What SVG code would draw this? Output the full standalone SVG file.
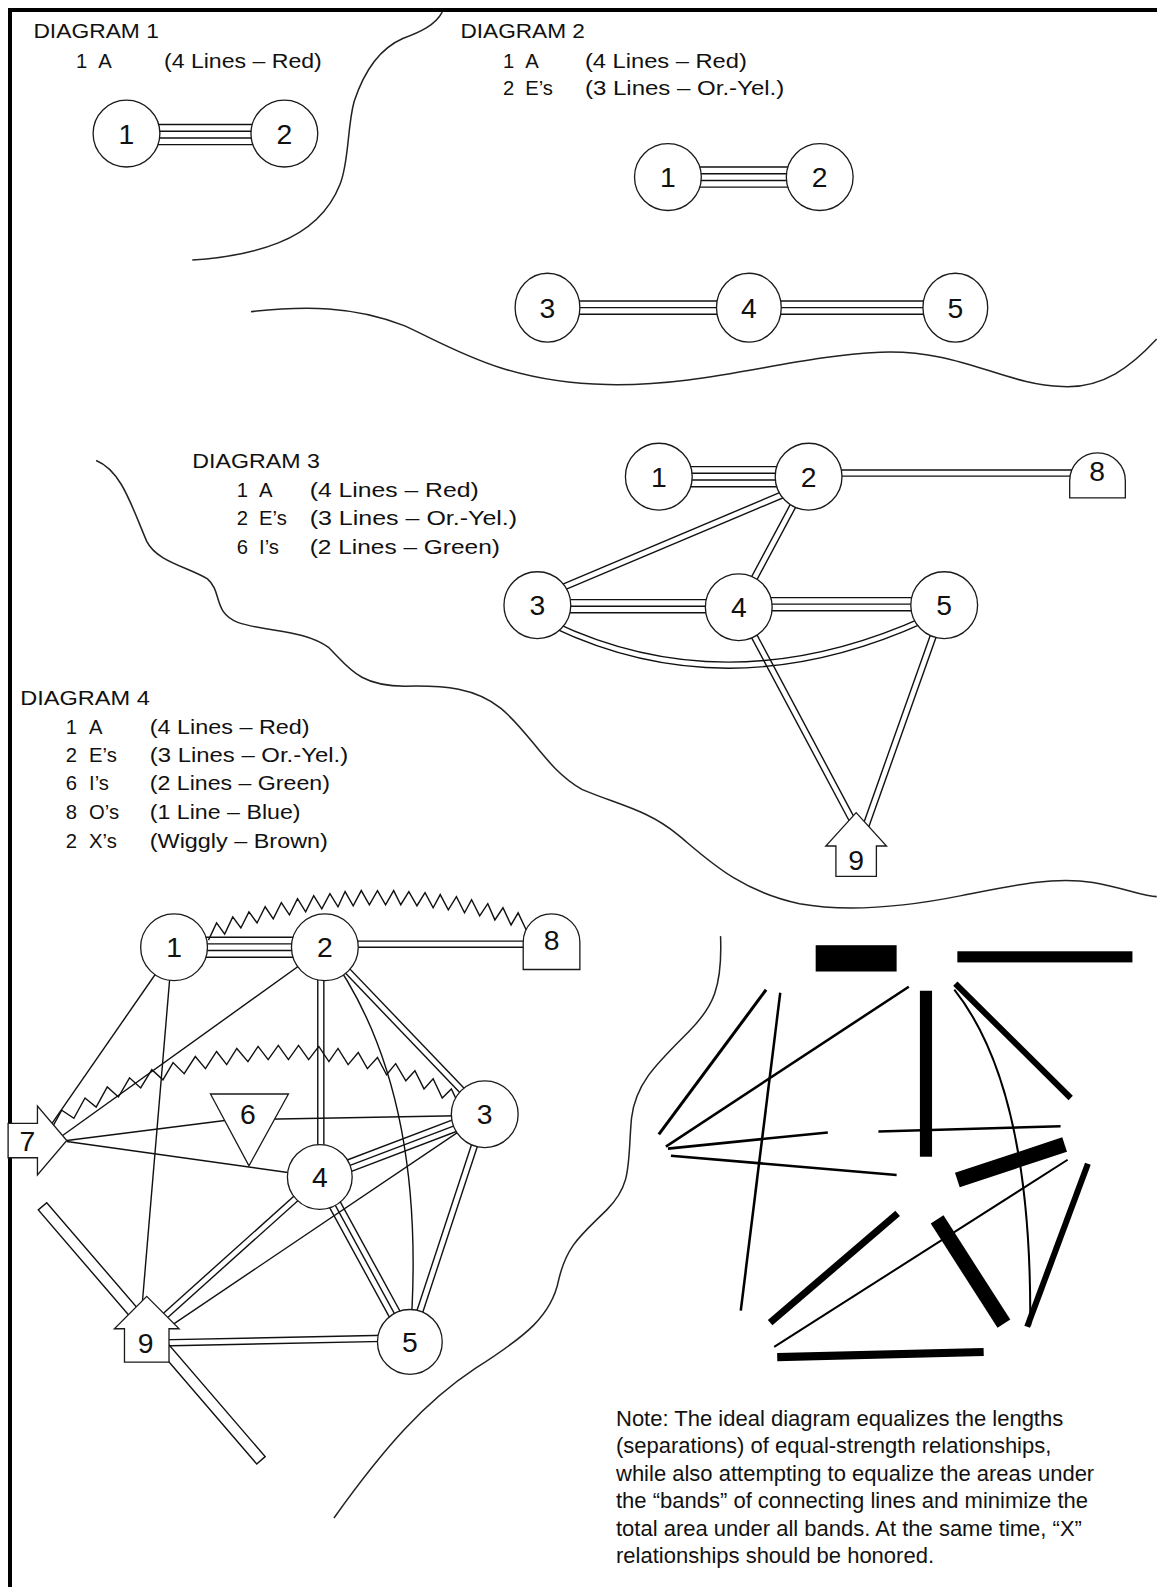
<svg xmlns="http://www.w3.org/2000/svg" width="1157" height="1587" viewBox="0 0 1157 1587">
<style>
.bg{fill:#fff}
.frame{stroke:#000;stroke-width:4;fill:none}
.wave{fill:none;stroke:#222;stroke-width:1.5}
.n{fill:#fff;stroke:#1a1a1a;stroke-width:1.3}
.c line,.c path,.c polyline{stroke:#111;stroke-width:1.4;fill:none}
.t{font-family:"Liberation Sans",Arial,sans-serif;font-size:20px;fill:#111}
.num{font-family:"Liberation Sans",Arial,sans-serif;font-size:28px;fill:#111;text-anchor:middle}
.note{font-family:"Liberation Sans",Arial,sans-serif;font-size:22px;fill:#111}
.blk line,.blk path{stroke:#000;fill:none}
</style>
<rect class="bg" width="1157" height="1587"/>
<path class="frame" d="M10,1587 V10 H1157"/>

<g id="content" transform="scale(1.012)">
<!-- wavy separators -->
<g id="separators">
<path class="wave" d="M437,12 C430,25 415,32 398,38 C375,48 360,70 350,100 C343,125 345,160 336,182 C325,210 305,228 275,240 C250,250 220,255 190,257"/>
<path class="wave" d="M248,308 C300,302 350,302 400,322 C450,345 500,378 600,380 C700,382 780,352 870,348 C950,345 990,380 1050,382 C1090,384 1118,362 1143,335"/>
<path class="wave" d="M95,455 C120,465 130,500 145,535 C155,555 185,560 205,572 C220,585 210,605 235,615 C265,625 300,622 325,640 C345,660 355,678 400,678 C440,677 470,680 495,700 C525,725 540,760 575,780 C610,795 640,800 670,825 C700,850 730,880 790,893 C840,902 900,895 950,885 C1000,875 1040,866 1080,872 C1110,877 1130,886 1143,886"/>
<path class="wave" d="M712,925 C714,975 705,995 680,1020 C650,1050 628,1070 624,1105 C620,1150 625,1170 600,1195 C575,1220 560,1230 552,1265 C545,1300 520,1320 470,1352 C420,1385 380,1430 330,1500"/>
</g>

<!-- legends -->
<g id="legend1" class="t">
<text x="33" y="38" textLength="124" lengthAdjust="spacingAndGlyphs">DIAGRAM 1</text>
<text x="75" y="67">1</text><text x="97" y="67">A</text>
<text x="162" y="67" textLength="156" lengthAdjust="spacingAndGlyphs">(4 Lines – Red)</text>
</g>
<g id="legend2" class="t">
<text x="455" y="38" textLength="123" lengthAdjust="spacingAndGlyphs">DIAGRAM 2</text>
<text x="497" y="67">1</text><text x="519" y="67">A</text>
<text x="578" y="67" textLength="160" lengthAdjust="spacingAndGlyphs">(4 Lines – Red)</text>
<text x="497" y="94">2</text><text x="519" y="94">E’s</text>
<text x="578" y="94" textLength="197" lengthAdjust="spacingAndGlyphs">(3 Lines – Or.-Yel.)</text>
</g>
<g id="legend3" class="t">
<text x="190" y="462" textLength="126" lengthAdjust="spacingAndGlyphs">DIAGRAM 3</text>
<text x="234" y="491">1</text><text x="256" y="491">A</text>
<text x="306" y="491" textLength="167" lengthAdjust="spacingAndGlyphs">(4 Lines – Red)</text>
<text x="234" y="519">2</text><text x="256" y="519">E’s</text>
<text x="306" y="519" textLength="205" lengthAdjust="spacingAndGlyphs">(3 Lines – Or.-Yel.)</text>
<text x="234" y="547">6</text><text x="256" y="547">I’s</text>
<text x="306" y="547" textLength="188" lengthAdjust="spacingAndGlyphs">(2 Lines – Green)</text>
</g>
<g id="legend4" class="t">
<text x="20" y="697" textLength="128" lengthAdjust="spacingAndGlyphs">DIAGRAM 4</text>
<text x="65" y="725">1</text><text x="88" y="725">A</text>
<text x="148" y="725" textLength="158" lengthAdjust="spacingAndGlyphs">(4 Lines – Red)</text>
<text x="65" y="753">2</text><text x="88" y="753">E’s</text>
<text x="148" y="753" textLength="196" lengthAdjust="spacingAndGlyphs">(3 Lines – Or.-Yel.)</text>
<text x="65" y="781">6</text><text x="88" y="781">I’s</text>
<text x="148" y="781" textLength="178" lengthAdjust="spacingAndGlyphs">(2 Lines – Green)</text>
<text x="65" y="809">8</text><text x="88" y="809">O’s</text>
<text x="148" y="809" textLength="149" lengthAdjust="spacingAndGlyphs">(1 Line – Blue)</text>
<text x="65" y="838">2</text><text x="88" y="838">X’s</text>
<text x="148" y="838" textLength="176" lengthAdjust="spacingAndGlyphs">(Wiggly – Brown)</text>
</g>

<!-- connectors -->
<g id="connectors" class="c">
<!-- D1 -->
<line x1="150" y1="123.1" x2="256" y2="123.1"/><line x1="150" y1="129.7" x2="256" y2="129.7"/><line x1="150" y1="136.3" x2="256" y2="136.3"/><line x1="150" y1="142.9" x2="256" y2="142.9"/>
<!-- D2 -->
<line x1="685" y1="165.1" x2="785" y2="165.1"/><line x1="685" y1="171.7" x2="785" y2="171.7"/><line x1="685" y1="178.3" x2="785" y2="178.3"/><line x1="685" y1="184.9" x2="785" y2="184.9"/>
<line x1="565" y1="297.5" x2="715" y2="297.5"/><line x1="565" y1="304" x2="715" y2="304"/><line x1="565" y1="310.5" x2="715" y2="310.5"/>
<line x1="765" y1="297.5" x2="920" y2="297.5"/><line x1="765" y1="304" x2="920" y2="304"/><line x1="765" y1="310.5" x2="920" y2="310.5"/>
<!-- D3 -->
<line x1="676" y1="461.1" x2="774" y2="461.1"/><line x1="676" y1="467.7" x2="774" y2="467.7"/><line x1="676" y1="474.3" x2="774" y2="474.3"/><line x1="676" y1="480.9" x2="774" y2="480.9"/>
<line x1="825" y1="464.5" x2="1065" y2="464.5"/><line x1="825" y1="470.5" x2="1065" y2="470.5"/>
<g transform="translate(531,591) rotate(-22.86)"><line x2="291" y1="-3" y2="-3"/><line x2="291" y1="3" y2="3"/></g>
<g transform="translate(730,600) rotate(-61.86)"><line x2="146" y1="-3" y2="-3"/><line x2="146" y1="3" y2="3"/></g>
<line x1="531" y1="592.5" x2="730" y2="592.5"/><line x1="531" y1="599" x2="730" y2="599"/><line x1="531" y1="605.5" x2="730" y2="605.5"/>
<line x1="730" y1="590.5" x2="933" y2="590.5"/><line x1="730" y1="597" x2="933" y2="597"/><line x1="730" y1="603.5" x2="933" y2="603.5"/>
<path d="M546,614 Q720,697 914,609"/><path d="M546,620 Q720,703 914,615"/>
<g transform="translate(730,600) rotate(61.94)"><line x2="240" y1="-3" y2="-3"/><line x2="240" y1="3" y2="3"/></g>
<g transform="translate(933,598) rotate(109.53)"><line x2="233" y1="-3" y2="-3"/><line x2="233" y1="3" y2="3"/></g>
<!-- D4 -->
<g transform="translate(42,1192) rotate(49.3)"><rect x="0" y="-5.5" width="331" height="11" fill="#fff" stroke="#111" stroke-width="1.4"/></g>
<line x1="195" y1="926.1" x2="300" y2="926.1"/><line x1="195" y1="932.7" x2="300" y2="932.7"/><line x1="195" y1="939.3" x2="300" y2="939.3"/><line x1="195" y1="945.9" x2="300" y2="945.9"/>
<line x1="345" y1="930" x2="530" y2="930"/><line x1="345" y1="936" x2="530" y2="936"/>
<polyline points="206,929 214,912 222,923 230,906 238,917 246,901 254,912 262,896 270,908 278,892 286,904 294,888 302,901 310,885 318,898 326,883 334,896 341,881 349,895 357,880 365,894 373,880 381,894 389,880 396,894 404,881 412,895 420,882 428,897 435,884 443,899 451,886 459,902 466,889 474,905 482,893 489,909 497,897 505,914 512,902 520,919"/>
<line x1="172" y1="936" x2="50" y2="1112"/>
<line x1="170" y1="940" x2="140" y2="1295"/>
<line x1="321" y1="936" x2="55" y2="1127"/>
<line x1="314" y1="936" x2="314" y2="1163"/><line x1="320" y1="936" x2="320" y2="1163"/>
<g transform="translate(321,936) rotate(46.24)"><line x2="228" y1="-3" y2="-3"/><line x2="228" y1="3" y2="3"/></g>
<path d="M321,936 Q425,1075 405,1326"/>
<line x1="66" y1="1127" x2="232" y2="1106"/>
<line x1="262" y1="1106" x2="479" y2="1102"/>
<line x1="66" y1="1128" x2="316" y2="1163"/>
<g transform="translate(316,1163) rotate(-20.83)"><line x2="174" y1="-6" y2="-6"/><line x2="174"/><line x2="174" y1="6" y2="6"/></g>
<g transform="translate(316,1163) rotate(61.36)"><line x2="186" y1="-6" y2="-6"/><line x2="186"/><line x2="186" y1="6" y2="6"/></g>
<g transform="translate(479,1101) rotate(108.21)"><line x2="237" y1="-3" y2="-3"/><line x2="237" y1="3" y2="3"/></g>
<line x1="479" y1="1101" x2="160" y2="1316"/>
<g transform="translate(316,1163) rotate(138.09)"><line x2="223" y1="-3" y2="-3"/><line x2="223" y1="3" y2="3"/></g>
<g transform="translate(158,1327) rotate(-1.17)"><line x2="247" y1="-3" y2="-3"/><line x2="247" y1="3" y2="3"/></g>
<polyline points="50,1117 61,1097 73,1105 84,1085 95,1094 106,1074 117,1084 128,1065 139,1075 150,1057 161,1067 171,1050 182,1061 193,1044 203,1056 214,1039 224,1052 234,1036 245,1049 255,1034 265,1047 275,1033 285,1047 295,1033 305,1047 315,1034 325,1049 334,1036 344,1052 354,1040 363,1056 373,1045 382,1062 391,1051 401,1068 410,1058 419,1076 428,1066 437,1085 446,1076 455,1095"/>
</g>

<!-- nodes -->
<g id="d1-n1"><circle class="n" cx="125" cy="132" r="33"/><text class="num" x="125" y="142">1</text></g>
<g id="d1-n2"><circle class="n" cx="281" cy="132" r="33"/><text class="num" x="281" y="142">2</text></g>

<g id="d2-n1"><circle class="n" cx="660" cy="175" r="33"/><text class="num" x="660" y="185">1</text></g>
<g id="d2-n2"><circle class="n" cx="810" cy="175" r="33"/><text class="num" x="810" y="185">2</text></g>
<g id="d2-n3"><ellipse class="n" cx="541" cy="304" rx="32" ry="34"/><text class="num" x="541" y="314">3</text></g>
<g id="d2-n4"><ellipse class="n" cx="740" cy="304" rx="32" ry="34"/><text class="num" x="740" y="314">4</text></g>
<g id="d2-n5"><ellipse class="n" cx="944" cy="304" rx="32" ry="34"/><text class="num" x="944" y="314">5</text></g>

<g id="d3-n1"><circle class="n" cx="651" cy="471" r="33"/><text class="num" x="651" y="481">1</text></g>
<g id="d3-n2"><circle class="n" cx="799" cy="471" r="33"/><text class="num" x="799" y="481">2</text></g>
<g id="d3-n8"><path class="n" d="M1057,492 V475 A27.5,27.5 0 0 1 1112,475 V492 Z"/><text class="num" x="1084" y="475">8</text></g>
<g id="d3-n3"><circle class="n" cx="531" cy="598" r="33"/><text class="num" x="531" y="608">3</text></g>
<g id="d3-n4"><circle class="n" cx="730" cy="600" r="33"/><text class="num" x="730" y="610">4</text></g>
<g id="d3-n5"><circle class="n" cx="933" cy="598" r="33"/><text class="num" x="933" y="608">5</text></g>
<g id="d3-n9"><polygon class="n" points="846,803 876,836 866,836 866,866 826,866 826,836 816,836"/><text class="num" x="846" y="860">9</text></g>

<g id="d4-n1"><circle class="n" cx="172" cy="936" r="33"/><text class="num" x="172" y="946">1</text></g>
<g id="d4-n2"><circle class="n" cx="321" cy="936" r="33"/><text class="num" x="321" y="946">2</text></g>
<g id="d4-n8"><path class="n" d="M517,958 V931 A28,28 0 0 1 573,931 V958 Z"/><text class="num" x="545" y="939">8</text></g>
<g id="d4-n3"><circle class="n" cx="479" cy="1101" r="33"/><text class="num" x="479" y="1111">3</text></g>
<g id="d4-n4"><circle class="n" cx="316" cy="1163" r="32"/><text class="num" x="316" y="1173">4</text></g>
<g id="d4-n5"><circle class="n" cx="405" cy="1326" r="32"/><text class="num" x="405" y="1336">5</text></g>
<g id="d4-n6"><polygon class="n" points="208,1081 285,1081 246,1152"/><text class="num" x="245" y="1111">6</text></g>
<g id="d4-n7"><polygon class="n" points="8,1110 37,1110 37,1093 66,1127 37,1161 37,1144 8,1144"/><text class="num" x="27" y="1137">7</text></g>
<g id="d4-n9"><polygon class="n" points="145,1281 177,1313 167,1313 167,1346 123,1346 123,1313 113,1313"/><text class="num" x="144" y="1337">9</text></g>

<!-- band diagram -->
<g id="bands" class="blk">
<rect x="806" y="934" width="80" height="26" fill="#000"/>
<rect x="946" y="940" width="173" height="11" fill="#000"/>
<line x1="757" y1="978" x2="651" y2="1121" stroke-width="3"/>
<line x1="771" y1="981" x2="732" y2="1295" stroke-width="2.5"/>
<line x1="898" y1="975" x2="658" y2="1133" stroke-width="2.5"/>
<rect x="909" y="979" width="12" height="164" fill="#000"/>
<path d="M943,978 Q1020,1075 1018,1310" stroke-width="2"/>
<line x1="944" y1="972" x2="1058" y2="1085" stroke-width="6"/>
<line x1="660" y1="1135" x2="818" y2="1119" stroke-width="2.5"/>
<line x1="868" y1="1118" x2="1048" y2="1113" stroke-width="2.5"/>
<line x1="663" y1="1142" x2="886" y2="1161" stroke-width="2.5"/>
<line x1="946" y1="1166" x2="1052" y2="1131" stroke-width="15"/>
<line x1="1055" y1="1146" x2="765" y2="1331" stroke-width="2"/>
<line x1="887" y1="1199" x2="761" y2="1307" stroke-width="7"/>
<line x1="926" y1="1205" x2="992" y2="1308" stroke-width="15"/>
<line x1="1075" y1="1150" x2="1015" y2="1311" stroke-width="6"/>
<line x1="768" y1="1341" x2="972" y2="1336" stroke-width="8"/>
</g>
</g>

<g id="note" class="note">
<text x="616" y="1426">Note: The ideal diagram equalizes the lengths</text>
<text x="616" y="1453">(separations) of equal-strength relationships,</text>
<text x="616" y="1481">while also attempting to equalize the areas under</text>
<text x="616" y="1508">the “bands” of connecting lines and minimize the</text>
<text x="616" y="1536">total area under all bands.  At the same time, “X”</text>
<text x="616" y="1563">relationships should be honored.</text>
</g>
</svg>
